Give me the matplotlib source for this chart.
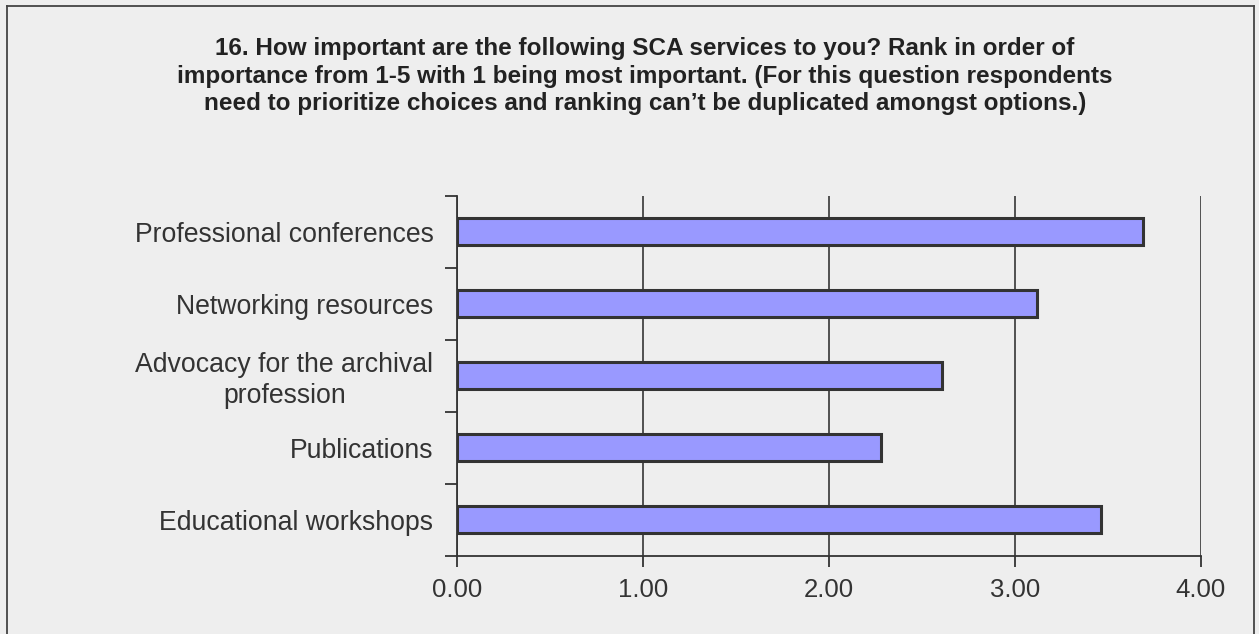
import matplotlib
matplotlib.use("Agg")
import matplotlib.pyplot as plt
from matplotlib.lines import Line2D
import numpy as np

categories = [
    "Professional conferences",
    "Networking resources",
    "Advocacy for the archival\nprofession",
    "Publications",
    "Educational workshops",
]
scores = [3.69, 3.12, 2.61, 2.28, 3.46]
x_ticks = [0.0, 1.0, 2.0, 3.0, 4.0]
x_tick_labels = ["0.00", "1.00", "2.00", "3.00", "4.00"]
title = ("16. How important are the following SCA services to you? Rank in order of\n"
         "importance from 1-5 with 1 being most important. (For this question respondents\n"
         "need to prioritize choices and ranking can\u2019t be duplicated amongst options.)")

plt.rcParams["font.family"] = ["Liberation Sans", "DejaVu Sans"]
bg = "#eeeeee"
ink = "#333333"

fig = plt.figure(figsize=(12.59, 6.34), dpi=100, facecolor=bg)
ax = fig.add_axes([457 / 1259, 1 - 555.5 / 634, (1201 - 457) / 1259, 360 / 634])
ax.set_facecolor(bg)

y = np.arange(len(categories))
ax.barh(y, scores, height=0.375, color="#9999ff", edgecolor=ink,
        linewidth=2.2, zorder=3)

ax.set_xlim(0, 4)
ax.set_ylim(len(categories) - 0.5, -0.5)

ax.set_xticks(x_ticks)
ax.set_xticklabels(x_tick_labels, fontsize=18.5, color=ink)
ax.tick_params(axis="x", length=8, width=1.3, color=ink, pad=8, direction="out")

ax.set_yticks(y)
ax.set_yticklabels(categories, fontsize=19.2, color=ink, linespacing=1.22)
ax.tick_params(axis="y", which="major", length=0, pad=17)
ax.set_yticks(np.arange(len(categories) + 1) - 0.5, minor=True)
ax.tick_params(axis="y", which="minor", length=9, width=1.3, color=ink, direction="out")
for lbl in ax.get_yticklabels():
    lbl.set_horizontalalignment("right")
    lbl.set_multialignment("center")

ax.xaxis.grid(True, color="#444444", linewidth=1.3, zorder=0)
ax.set_axisbelow(True)
for side in ("top", "right"):
    ax.spines[side].set_visible(False)
for side in ("left", "bottom"):
    ax.spines[side].set_color(ink)
    ax.spines[side].set_linewidth(1.3)

fig.text(645 / 1259, 1 - 37 / 634, title, ha="center", va="top", fontsize=17.5,
         fontweight="bold", color="#222222", linespacing=1.25)

# Outer frame (open at the bottom)
fx0, fx1, fy1 = 6.5 / 1259, 1253.5 / 1259, 1 - 5.5 / 634
frame = dict(color="#444444", linewidth=1.3, transform=fig.transFigure)
fig.add_artist(Line2D([fx0, fx0], [0, fy1], **frame))
fig.add_artist(Line2D([fx0, fx1], [fy1, fy1], **frame))
fig.add_artist(Line2D([fx1, fx1], [fy1, 0], **frame))

fig.savefig("out.png", dpi=100, facecolor=bg)
